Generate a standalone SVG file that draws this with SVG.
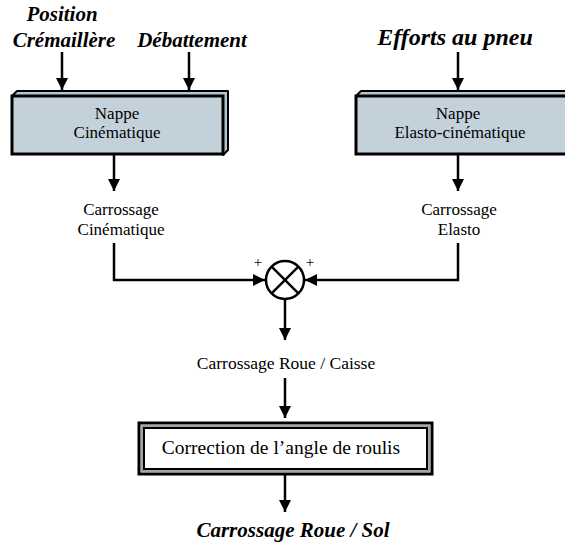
<svg xmlns="http://www.w3.org/2000/svg" width="565" height="544" viewBox="0 0 565 544">
  <style>
    .title { font-family: "Liberation Serif", "Times New Roman", serif; font-weight: bold; font-style: italic; fill: #000; text-anchor: middle; }
    .lbl { font-family: "Liberation Serif", "Times New Roman", serif; fill: #000; text-anchor: middle; }
    .wire { stroke: #000; stroke-width: 2.5; fill: none; }
    .face { fill: #c3d2da; stroke: #000; stroke-width: 3; }
    .bevel { fill: #b4c6cf; stroke: #000; stroke-width: 2; stroke-linejoin: round; }
  </style>
  <defs>
    <marker id="arrow" markerWidth="12" markerHeight="12" viewBox="0 0 12 12" refX="12" refY="6" orient="auto" markerUnits="userSpaceOnUse">
      <path d="M0,0 L12,6 L0,12 z" fill="#000"/>
    </marker>
  </defs>
  <rect width="565" height="544" fill="#fff"/>

  <!-- inputs -->
  <g id="input-position">
    <text class="title" x="62" y="21" font-size="21">Position</text>
    <text class="title" x="64" y="47" font-size="21">Crémaillère</text>
  </g>
  <g id="input-debattement">
    <text class="title" x="192" y="47" font-size="21">Débattement</text>
  </g>
  <g id="input-efforts">
    <text class="title" x="455" y="45" font-size="24">Efforts au pneu</text>
  </g>

  <!-- kinematic map block -->
  <g id="nappe-cinematique">
    <path class="bevel" d="M12,96 L17,91 L228,91 L228,150 L223,155 L223,96 Z"/>
    <rect class="face" x="12" y="96" width="211" height="58"/>
    <text class="lbl" x="117" y="119" font-size="17">Nappe</text>
    <text class="lbl" x="117" y="138" font-size="17">Cinématique</text>
  </g>

  <!-- elasto-kinematic map block -->
  <g id="nappe-elasto">
    <path class="bevel" d="M356,96 L361,91 L575,91 L575,150 L570,155 L570,96 Z"/>
    <rect class="face" x="356" y="96" width="214" height="58"/>
    <text class="lbl" x="458" y="119" font-size="17">Nappe</text>
    <text class="lbl" x="460" y="138" font-size="17">Elasto-cinématique</text>
  </g>

  <g id="carrossage-cinematique">
    <text class="lbl" x="121" y="215" font-size="17">Carrossage</text>
    <text class="lbl" x="121" y="235" font-size="17">Cinématique</text>
  </g>
  <g id="carrossage-elasto">
    <text class="lbl" x="459" y="215" font-size="17">Carrossage</text>
    <text class="lbl" x="459" y="235" font-size="17">Elasto</text>
  </g>

  <!-- summing junction -->
  <g id="sommateur">
    <circle cx="285" cy="280" r="19" fill="#fff" stroke="#000" stroke-width="2.5"/>
    <line x1="271.6" y1="266.6" x2="298.4" y2="293.4" stroke="#000" stroke-width="2.5"/>
    <line x1="298.4" y1="266.6" x2="271.6" y2="293.4" stroke="#000" stroke-width="2.5"/>
    <text class="lbl" x="258" y="267" font-size="15">+</text>
    <text class="lbl" x="310" y="267" font-size="15">+</text>
  </g>

  <g id="carrossage-roue-caisse">
    <text class="lbl" x="286" y="369" font-size="17.5">Carrossage Roue / Caisse</text>
  </g>

  <!-- roll angle correction block -->
  <g id="correction-roulis">
    <rect x="139" y="423" width="293" height="51" fill="#fff" stroke="#000" stroke-width="3"/>
    <rect x="142" y="426" width="287" height="45" fill="none" stroke="#888" stroke-width="1.5"/>
    <rect x="144" y="428" width="283" height="41" fill="#fff" stroke="#000" stroke-width="2"/>
    <text class="lbl" x="281" y="454" font-size="19.5">Correction de l’angle de roulis</text>
  </g>

  <g id="sortie">
    <text class="title" x="293" y="537" font-size="21">Carrossage Roue / Sol</text>
  </g>

  <!-- connectors -->
  <g id="connecteurs">
    <line class="wire" x1="62" y1="52" x2="62" y2="90" marker-end="url(#arrow)"/>
    <line class="wire" x1="189" y1="52" x2="189" y2="90" marker-end="url(#arrow)"/>
    <line class="wire" x1="458" y1="52" x2="458" y2="90" marker-end="url(#arrow)"/>
    <line class="wire" x1="114" y1="155" x2="114" y2="191" marker-end="url(#arrow)"/>
    <line class="wire" x1="458" y1="155" x2="458" y2="191" marker-end="url(#arrow)"/>
    <polyline class="wire" points="114,243 114,280 265,280" marker-end="url(#arrow)"/>
    <polyline class="wire" points="458,243 458,280 305,280" marker-end="url(#arrow)"/>
    <line class="wire" x1="285" y1="300" x2="285" y2="340" marker-end="url(#arrow)"/>
    <line class="wire" x1="285" y1="378" x2="285" y2="418" marker-end="url(#arrow)"/>
    <line class="wire" x1="285" y1="475" x2="285" y2="512" marker-end="url(#arrow)"/>
  </g>
</svg>
